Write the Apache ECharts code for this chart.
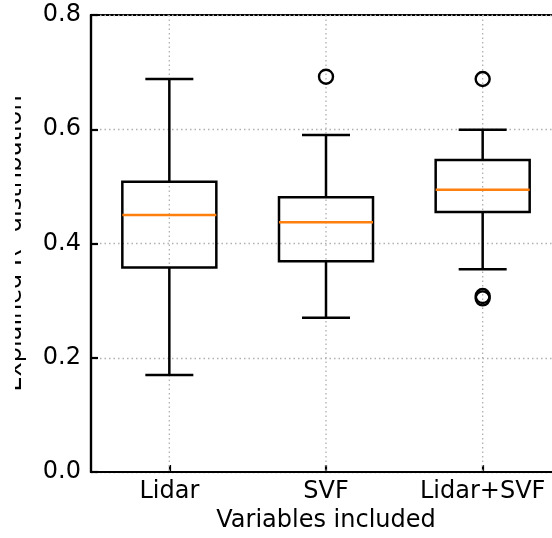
<!DOCTYPE html>
<html>
<head>
<meta charset="utf-8">
<script src="https://cdn.jsdelivr.net/npm/echarts@6/dist/echarts.min.js"></script>
<style>html,body{margin:0;padding:0;background:#fff;}#c{width:552px;height:538px;}</style>
</head>
<body>
<div id="c"></div>
<script>
var categories = ['Lidar', 'SVF', 'Lidar+SVF'];
var lowerWhisker = [0.170, 0.270, 0.355];
var q1 = [0.358, 0.369, 0.455];
var median = [0.450, 0.437, 0.494];
var q3 = [0.508, 0.481, 0.546];
var upperWhisker = [0.688, 0.590, 0.599];
var outliers = [[1, 0.692], [2, 0.688], [2, 0.308], [2, 0.304]];

var FONT = 'DejaVu Sans';
var boxData = categories.map(function (c, i) {
  return [i, lowerWhisker[i], q1[i], median[i], q3[i], upperWhisker[i]];
});

var chart = echarts.init(document.getElementById('c'), null, {renderer: 'canvas'});
var BOX_HALF = 47;
var CAP_HALF = 24;
var LW = 2.5;
var AW = 2.2;

chart.setOption({
  animation: false,
  backgroundColor: '#fff',
  grid: {left: 91, top: 15, right: -9, bottom: 66, outerBoundsMode: 'none', containLabel: false, show: true, borderColor: '#000', borderWidth: AW, backgroundColor: 'transparent'},
  xAxis: {
    type: 'category',
    data: categories,
    boundaryGap: true,
    name: 'Variables included',
    nameLocation: 'middle',
    nameGap: 36,
    nameTextStyle: {fontFamily: FONT, fontSize: 24, color: '#000'},
    axisLine: {lineStyle: {color: '#000', width: AW}},
    axisTick: {show: true, inside: true, length: 7, alignWithLabel: true, lineStyle: {color: '#000', width: AW}},
    axisLabel: {fontFamily: FONT, fontSize: 24, color: '#000', margin: 8, interval: 0, hideOverlap: false},
    splitLine: {show: false}
  },
  yAxis: {
    type: 'value',
    min: 0, max: 0.8, interval: 0.2,
    axisLine: {show: true, lineStyle: {color: '#000', width: AW}},
    axisTick: {show: true, inside: true, length: 7, lineStyle: {color: '#000', width: AW}},
    axisLabel: {fontFamily: FONT, fontSize: 24, color: '#000', margin: 10, formatter: function (v) { return v.toFixed(1); }},
    splitLine: {show: true, lineStyle: {color: '#b0b0b0', width: 1.3, type: [1.5, 3]}}
  },
  graphic: [
    {
      type: 'text',
      x: 15, y: 243.5,
      rotation: Math.PI / 2,
      style: {text: 'Explained R\u00b2 distribution', fontFamily: FONT, fontSize: 24, fill: '#000', align: 'center', verticalAlign: 'middle'},
      z: 10
    },
    {
      type: 'rect',
      shape: {x: 0, y: 0, width: 15, height: 538},
      style: {fill: '#fff'},
      z: 20
    }
  ],
  series: [
    {
      type: 'custom',
      data: boxData,
      z: 1,
      renderItem: function (params, api) {
        var i = api.value(0);
        var top = api.coord([i, 0.8]);
        var bot = api.coord([i, 0]);
        return {
          type: 'line',
          shape: {x1: top[0], y1: top[1], x2: bot[0], y2: bot[1]},
          style: {stroke: '#b0b0b0', lineWidth: 1.3, lineDash: [1.5, 3]}
        };
      }
    },
    {
      type: 'custom',
      data: boxData,
      z: 3,
      renderItem: function (params, api) {
        var i = api.value(0);
        var pLo = api.coord([i, api.value(1)]);
        var pQ1 = api.coord([i, api.value(2)]);
        var pMed = api.coord([i, api.value(3)]);
        var pQ3 = api.coord([i, api.value(4)]);
        var pHi = api.coord([i, api.value(5)]);
        var x = pQ1[0];
        var st = {stroke: '#000', lineWidth: LW, fill: null};
        return {
          type: 'group',
          children: [
            {type: 'line', shape: {x1: x, y1: pHi[1], x2: x, y2: pQ3[1]}, style: st},
            {type: 'line', shape: {x1: x, y1: pQ1[1], x2: x, y2: pLo[1]}, style: st},
            {type: 'line', shape: {x1: x - CAP_HALF, y1: pHi[1], x2: x + CAP_HALF, y2: pHi[1]}, style: st},
            {type: 'line', shape: {x1: x - CAP_HALF, y1: pLo[1], x2: x + CAP_HALF, y2: pLo[1]}, style: st},
            {type: 'rect', shape: {x: x - BOX_HALF, y: pQ3[1], width: 2 * BOX_HALF, height: pQ1[1] - pQ3[1]}, style: {stroke: '#000', lineWidth: LW, fill: 'none'}},
            {type: 'line', shape: {x1: x - BOX_HALF, y1: pMed[1], x2: x + BOX_HALF, y2: pMed[1]}, style: {stroke: '#ff7f0e', lineWidth: LW}}
          ]
        };
      }
    },
    {
      type: 'scatter',
      data: outliers,
      symbol: 'circle',
      symbolSize: 14,
      z: 4,
      itemStyle: {color: 'rgba(0,0,0,0)', borderColor: '#000', borderWidth: 2.4, opacity: 1}
    }
  ]
});
</script>
</body>
</html>
